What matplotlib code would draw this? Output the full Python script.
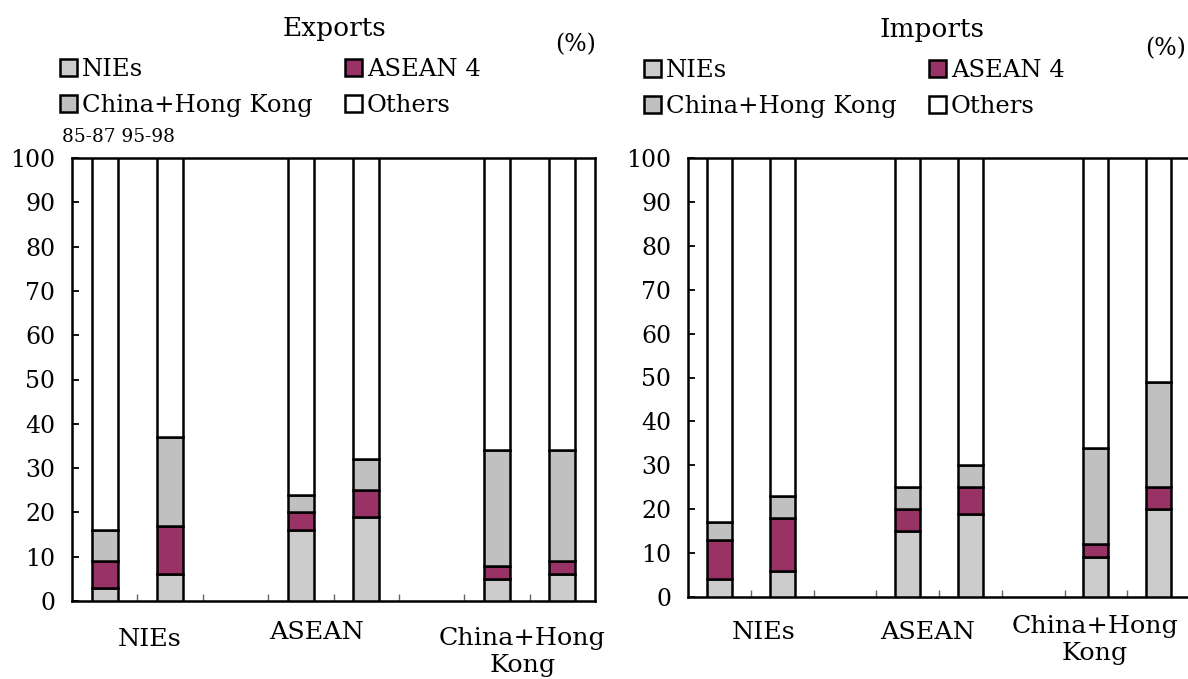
import matplotlib
matplotlib.use("Agg")
import matplotlib.pyplot as plt
from matplotlib.patches import Patch

plt.rcParams['font.family'] = ['DejaVu Serif']

# bar slots: two periods per region, with an empty slot between regions
positions = [0, 1, 3, 4, 6, 7]
periods = ["85-87", "95-98"]
regions = ["NIEs", "ASEAN", "China+Hong\nKong"]
series = ["NIEs", "ASEAN 4", "China+Hong Kong", "Others"]
colors = ["#cccccc", "#993366", "#c0c0c0", "#ffffff"]

# shares (%) for each bar: NIEs 85-87, NIEs 95-98, ASEAN 85-87, ...
exp_nies = [3, 6, 16, 19, 5, 6]
exp_asean4 = [6, 11, 4, 6, 3, 3]
exp_china = [7, 20, 4, 7, 26, 25]
exp_others = [84, 63, 76, 68, 66, 66]

imp_nies = [4, 6, 15, 19, 9, 20]
imp_asean4 = [9, 12, 5, 6, 3, 5]
imp_china = [4, 5, 5, 5, 22, 24]
imp_others = [83, 77, 75, 70, 66, 51]

W, H = 1188, 679
fig = plt.figure(figsize=(W / 100, H / 100), dpi=100)

ax1 = fig.add_axes([72 / W, 1 - 601 / H, 523 / W, 443 / H])
ax2 = fig.add_axes([688 / W, 1 - 597 / H, 502 / W, 439 / H])


def draw(ax, title, parts, label_pos, label_y, legend_xy, pct_pos, title_x):
    bottom = [0] * len(positions)
    for vals, c in zip(parts, colors):
        ax.bar(positions, vals, bottom=bottom, width=0.4, color=c,
               edgecolor="black", linewidth=1.8, zorder=3)
        bottom = [b + v for b, v in zip(bottom, vals)]

    ax.set_xlim(-0.5, 7.5)
    ax.set_ylim(0, 100)
    ax.set_yticks(range(0, 101, 10))
    ax.set_xticks([0.5, 1.5, 2.5, 3.5, 4.5, 5.5, 6.5])
    ax.set_xticklabels([])
    ax.tick_params(axis="y", direction="in", length=5, width=1.3,
                   labelsize=17, pad=12)
    ax.tick_params(axis="x", direction="in", length=5, width=1.0,
                   color="#666666")
    for s in ax.spines.values():
        s.set_linewidth(1.8)

    for name, x, y in zip(regions, label_pos, label_y):
        ax.text(x, y, name, transform=ax.get_xaxis_transform(),
                ha="center", va="center", fontsize=18.3, linespacing=1.2)

    ax.text(title_x, 1.293, title, transform=ax.transAxes,
            ha="center", va="center", fontsize=19)
    ax.text(pct_pos[0], pct_pos[1], "(%)", transform=ax.transAxes,
            ha="center", va="center", fontsize=17)

    handles = [Patch(facecolor=c, edgecolor="black", linewidth=1.8)
               for c in colors]
    order = [0, 2, 1, 3]
    ax.legend([handles[i] for i in order], [series[i] for i in order],
              ncol=2, loc="upper left", bbox_to_anchor=legend_xy,
              frameon=False, fontsize=17.5, handlelength=0.72,
              handleheight=0.72, handletextpad=0.2, columnspacing=1.3,
              labelspacing=0.55, borderpad=0, borderaxespad=0)


draw(ax1, "Exports", [exp_nies, exp_asean4, exp_china, exp_others],
     [0.68, 3.24, 6.39], [-0.088, -0.070, -0.115], (-0.023, 1.226),
     (0.962, 1.255), 0.502)
draw(ax2, "Imports", [imp_nies, imp_asean4, imp_china, imp_others],
     [0.71, 3.32, 5.99], [-0.080, -0.080, -0.098], (-0.088, 1.226),
     (0.952, 1.25), 0.487)

# period labels above the first group of exports
ax1.text(-0.66, 1.047, " ".join(periods),
         transform=ax1.get_xaxis_transform(), ha="left", va="center",
         fontsize=13.3)

fig.savefig("out.png", dpi=100)
